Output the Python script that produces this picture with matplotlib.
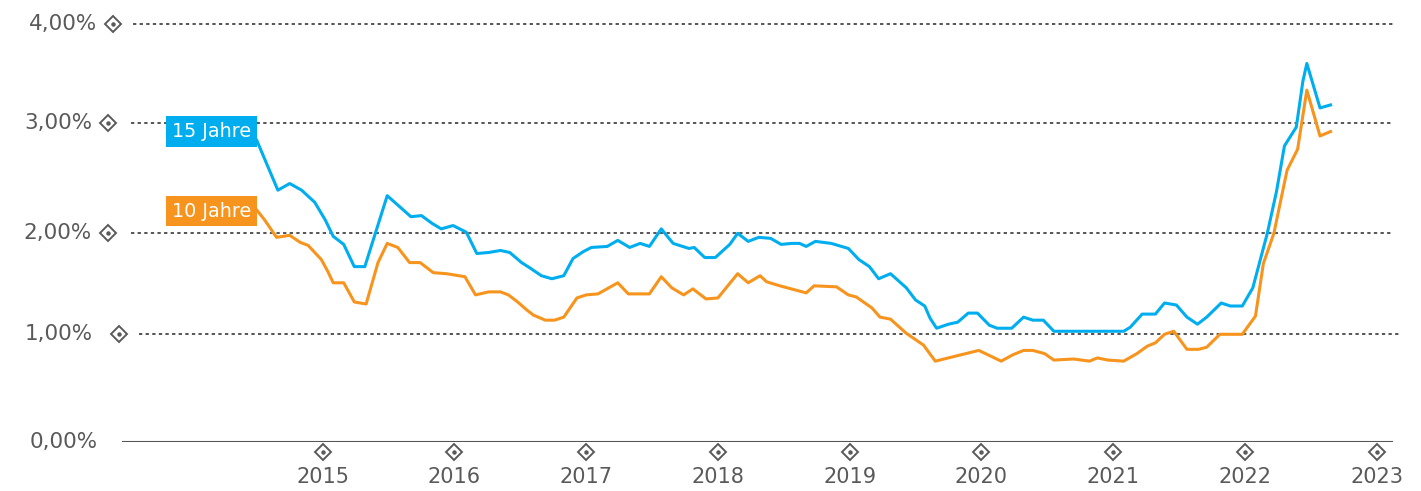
import matplotlib
matplotlib.use("Agg")
import matplotlib.pyplot as plt
from matplotlib import transforms as mtrans
import numpy as np

# ---------------- data (decimal years, percent) ----------------
years_15 = [2014.50, 2014.66, 2014.75, 2014.84, 2014.94, 2015.02, 2015.08, 2015.16, 2015.24, 2015.32,
            2015.49, 2015.67, 2015.75, 2015.83, 2015.90, 2015.99, 2016.09, 2016.17, 2016.26, 2016.35,
            2016.42, 2016.51, 2016.57, 2016.66, 2016.74, 2016.83, 2016.90, 2016.98, 2017.04, 2017.16,
            2017.24, 2017.33, 2017.41, 2017.48, 2017.57, 2017.66, 2017.78, 2017.82, 2017.90, 2017.98,
            2018.09, 2018.15, 2018.23, 2018.31, 2018.40, 2018.48, 2018.56, 2018.62, 2018.67, 2018.74,
            2018.86, 2018.99, 2019.07, 2019.15, 2019.22, 2019.31, 2019.43, 2019.50, 2019.57, 2019.61,
            2019.66, 2019.75, 2019.82, 2019.90, 2019.97, 2020.06, 2020.12, 2020.23, 2020.32, 2020.39,
            2020.47, 2020.55, 2021.08, 2021.13, 2021.22, 2021.32, 2021.39, 2021.48, 2021.56, 2021.64,
            2021.71, 2021.82, 2021.89, 2021.98, 2022.06, 2022.17, 2022.24, 2022.30, 2022.39, 2022.44,
            2022.47, 2022.57, 2022.65]
rate_15 = [2.84, 2.39, 2.45, 2.39, 2.28, 2.12, 1.97, 1.89, 1.67, 1.67,
           2.34, 2.15, 2.16, 2.09, 2.04, 2.07, 2.01, 1.80, 1.81, 1.83,
           1.81, 1.71, 1.66, 1.58, 1.55, 1.58, 1.75, 1.82, 1.86, 1.87,
           1.93, 1.86, 1.90, 1.87, 2.04, 1.90, 1.85, 1.86, 1.76, 1.76,
           1.89, 2.00, 1.92, 1.96, 1.95, 1.89, 1.90, 1.90, 1.87, 1.92,
           1.90, 1.85, 1.74, 1.67, 1.55, 1.60, 1.46, 1.34, 1.28, 1.16,
           1.06, 1.10, 1.12, 1.21, 1.21, 1.09, 1.06, 1.06, 1.17, 1.14,
           1.14, 1.03, 1.03, 1.07, 1.20, 1.20, 1.31, 1.29, 1.17, 1.10,
           1.17, 1.31, 1.28, 1.28, 1.46, 2.00, 2.38, 2.79, 2.96, 3.42,
           3.60, 3.15, 3.18]

years_10 = [2014.50, 2014.56, 2014.65, 2014.75, 2014.83, 2014.89, 2014.99, 2015.04, 2015.08, 2015.16,
            2015.24, 2015.33, 2015.42, 2015.49, 2015.57, 2015.66, 2015.74, 2015.84, 2015.94, 2016.08,
            2016.16, 2016.26, 2016.35, 2016.41, 2016.48, 2016.55, 2016.60, 2016.69, 2016.76, 2016.83,
            2016.93, 2017.00, 2017.09, 2017.24, 2017.32, 2017.48, 2017.57, 2017.65, 2017.74, 2017.81,
            2017.91, 2018.00, 2018.15, 2018.23, 2018.32, 2018.37, 2018.47, 2018.67, 2018.73, 2018.90,
            2018.99, 2019.05, 2019.17, 2019.23, 2019.31, 2019.43, 2019.56, 2019.65, 2019.98, 2020.15,
            2020.24, 2020.32, 2020.39, 2020.48, 2020.55, 2020.70, 2020.82, 2020.88, 2020.96, 2021.08,
            2021.18, 2021.26, 2021.32, 2021.39, 2021.46, 2021.56, 2021.65, 2021.71, 2021.81, 2021.98,
            2022.08, 2022.14, 2022.22, 2022.26, 2022.32, 2022.40, 2022.47, 2022.57, 2022.65]
rate_10 = [2.21, 2.12, 1.96, 1.98, 1.91, 1.88, 1.74, 1.62, 1.51, 1.51,
           1.32, 1.30, 1.71, 1.90, 1.86, 1.71, 1.71, 1.61, 1.60, 1.57,
           1.39, 1.42, 1.42, 1.39, 1.32, 1.24, 1.19, 1.14, 1.14, 1.17,
           1.36, 1.39, 1.40, 1.51, 1.40, 1.40, 1.57, 1.46, 1.39, 1.45,
           1.35, 1.36, 1.60, 1.51, 1.58, 1.52, 1.48, 1.41, 1.48, 1.47,
           1.39, 1.37, 1.26, 1.17, 1.15, 1.01, 0.90, 0.75, 0.85, 0.75,
           0.81, 0.85, 0.85, 0.82, 0.76, 0.77, 0.75, 0.78, 0.76, 0.75,
           0.82, 0.89, 0.92, 1.00, 1.03, 0.86, 0.86, 0.88, 1.00, 1.00,
           1.18, 1.70, 2.00, 2.23, 2.57, 2.76, 3.33, 2.88, 2.92]

series_names = ["15 Jahre", "10 Jahre"]
year_ticks = [2015, 2016, 2017, 2018, 2019, 2020, 2021, 2022, 2023]
y_ticks = [0, 1, 2, 3, 4]
y_tick_labels = ["0,00%", "1,00%", "2,00%", "3,00%", "4,00%"]

# ---------------- style ----------------
BLUE = "#00AEEF"
ORANGE = "#F7941D"
GREY = "#5a5a5a"
DPI = 100

# the source chart spaces its percent bands slightly unevenly
_scale_knots = [0, 1, 2, 3, 4]
_scale_pos = [0.0, 1.074, 2.084, 3.19, 4.177]


def _fwd(v):
    return np.interp(v, _scale_knots, _scale_pos, left=-1e9, right=1e9)


def _inv(p):
    return np.interp(p, _scale_pos, _scale_knots)


fig = plt.figure(figsize=(14.21, 4.91), dpi=DPI)
ax = fig.add_axes([122 / 1421, 1 - 441.7 / 491, (1393 - 122) / 1421, (441.7 - 24) / 491])
ax.set_yscale("function", functions=(lambda v: np.interp(v, _scale_knots, _scale_pos),
                                     lambda p: np.interp(p, _scale_pos, _scale_knots)))
ax.set_xlim(2013.477, 2023.124)
ax.set_ylim(0, 4)
ax.axis("off")

# grid lines (dotted) and baseline
grid_start = {1: 0.0134, 2: 0.0071, 3: 0.0071, 4: 0.0087}
grid_end = {1: 1.006, 2: 1.0, 3: 1.0, 4: 1.0}
for v in y_ticks[1:]:
    ax.axhline(v, xmin=grid_start[v], xmax=grid_end[v], color="#555555", lw=1.4,
               linestyle=(0, (1.7, 1.7)), zorder=1, clip_on=False)
ax.axhline(0, color="#555555", lw=1.5, zorder=1)

# series
ax.plot(years_15, rate_15, color=BLUE, lw=2.2, zorder=3)
ax.plot(years_10, rate_10, color=ORANGE, lw=2.2, zorder=3)

# series label boxes
ax.annotate(series_names[0], xy=(years_15[0], rate_15[0]), xytext=(-6, 9),
            textcoords="offset pixels", ha="right", va="center", color="white",
            fontsize=13.8, zorder=5,
            bbox=dict(boxstyle="square,pad=0.3", fc=BLUE, ec="none"))
ax.annotate(series_names[1], xy=(years_10[0], rate_10[0]), xytext=(-6, -1),
            textcoords="offset pixels", ha="right", va="center", color="white",
            fontsize=13.8, zorder=5,
            bbox=dict(boxstyle="square,pad=0.3", fc=ORANGE, ec="none"))

# y tick labels + diamonds
ytr = ax.get_yaxis_transform()
label_off = {0: -24, 1: -29, 2: -30, 3: -30, 4: -25}
diamond_off = {1: -3, 2: -14, 3: -14, 4: -9}
for v, lab in zip(y_ticks, y_tick_labels):
    ax.annotate(lab, xy=(0, v), xycoords=ytr, xytext=(label_off[v], 0),
                textcoords="offset pixels", ha="right", va="center",
                color=GREY, fontsize=15.5)
    if v in diamond_off:
        tr = mtrans.offset_copy(ytr, fig=fig, x=diamond_off[v], y=0, units="dots")
        ax.plot([0], [v], transform=tr, marker="D", ms=8, mfc="white", mec=GREY,
                mew=1.4, clip_on=False, zorder=4)
        ax.plot([0], [v], transform=tr, marker="o", ms=2.2, mfc=GREY, mec=GREY,
                clip_on=False, zorder=5)

# x tick labels + diamonds
xtr = ax.get_xaxis_transform()
dtr = mtrans.offset_copy(xtr, fig=fig, x=0, y=-10.5, units="dots")
for yr in year_ticks:
    ax.plot([yr], [0], transform=dtr, marker="D", ms=8, mfc="white", mec=GREY,
            mew=1.4, clip_on=False, zorder=4)
    ax.plot([yr], [0], transform=dtr, marker="o", ms=2.2, mfc=GREY, mec=GREY,
            clip_on=False, zorder=5)
    ax.annotate(str(yr), xy=(yr, 0), xycoords=xtr, xytext=(0, -35),
                textcoords="offset pixels", ha="center", va="center",
                color=GREY, fontsize=15)

fig.savefig("out.png", dpi=DPI)
